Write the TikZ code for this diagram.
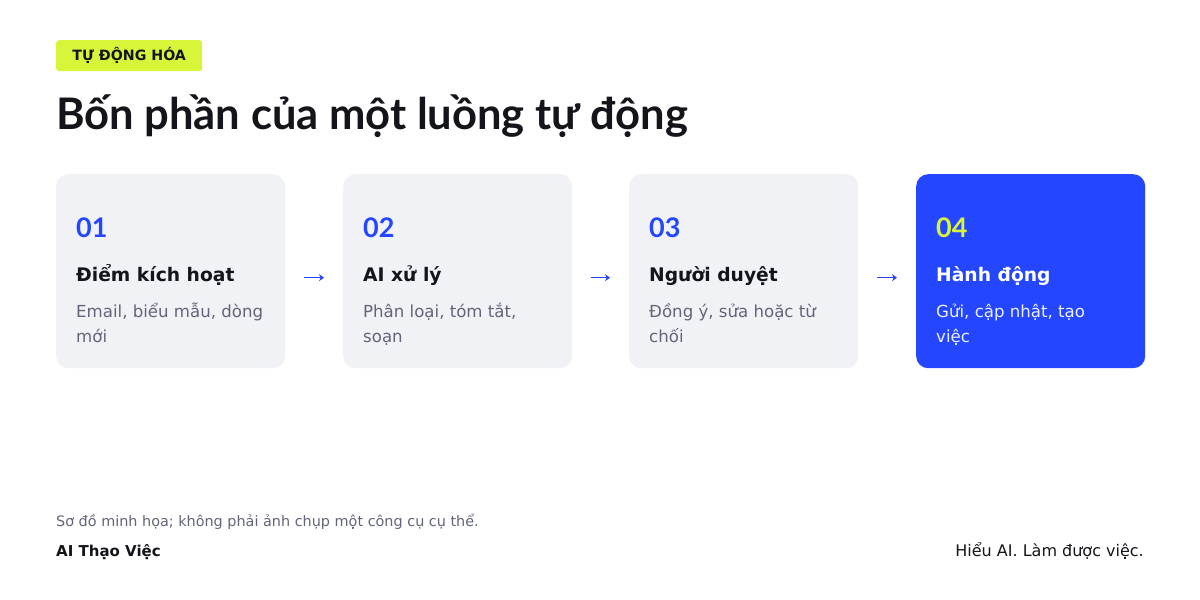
\documentclass[tikz,border=0pt]{standalone}
\usepackage{fontspec}
\setmainfont{DejaVu Sans}
\newfontfamily\headfont{Lato}
\usetikzlibrary{arrows.meta,calc}
\definecolor{ink}{HTML}{14151A}
\definecolor{muted}{HTML}{62657A}
\definecolor{cardbg}{HTML}{F1F2F6}
\definecolor{brand}{HTML}{2446FF}
\definecolor{lime}{HTML}{D8F53A}
\tikzset{
  card/.style={rounded corners=12, minimum width=229, minimum height=194, inner sep=0, anchor=north west},
  plaincard/.style={card, fill=cardbg},
  hotcard/.style={card, fill=brand},
  num/.style={anchor=base west, inner sep=0, font=\headfont\fontsize{27}{30}\selectfont\bfseries},
  ctitle/.style={anchor=base west, inner sep=0, font=\fontsize{18.7}{24}\selectfont\bfseries},
  cdesc/.style={anchor=base west, inner sep=0, font=\fontsize{16.6}{20}\selectfont},
  flow/.style={draw=brand, line width=1.4, -{Stealth[length=5,width=7]}, shorten <=19, shorten >=19},
}
\begin{document}
\begin{tikzpicture}[x=1pt,y=-1pt]
\useasboundingbox[fill=white] (0,0) rectangle (1200,600);
% tag
\node[fill=lime, rounded corners=3, minimum width=146, minimum height=31, inner sep=0, anchor=north west,
      font=\fontsize{14.2}{18}\selectfont\bfseries, text=ink] (tag) at (56,40) {TỰ ĐỘNG HÓA};
% title
\node[anchor=base west, inner sep=0, font=\headfont\fontsize{43.5}{50}\selectfont\bfseries, text=ink] (title) at (56,129)
  {Bốn phần của một luồng tự động};
% cards
\node[plaincard] (c1) at (56,174) {};
\node[plaincard] (c2) at (343,174) {};
\node[plaincard] (c3) at (629,174) {};
\node[hotcard] (c4) at (916,174) {};
% card 1
\node[num, text=brand] (n1) at (76,237) {01};
\node[ctitle, text=ink] (t1) at (76,281) {Điểm kích hoạt};
\node[cdesc, text=muted] (d1a) at (76,317) {Email, biểu mẫu, dòng};
\node[cdesc, text=muted] (d1b) at (76,342) {mới};
% card 2
\node[num, text=brand] (n2) at (363,237) {02};
\node[ctitle, text=ink] (t2) at (363,281) {AI xử lý};
\node[cdesc, text=muted] (d2a) at (363,317) {Phân loại, tóm tắt,};
\node[cdesc, text=muted] (d2b) at (363,342) {soạn};
% card 3
\node[num, text=brand] (n3) at (649,237) {03};
\node[ctitle, text=ink] (t3) at (649,281) {Người duyệt};
\node[cdesc, text=muted] (d3a) at (649,317) {Đồng ý, sửa hoặc từ};
\node[cdesc, text=muted] (d3b) at (649,342) {chối};
% card 4
\node[num, text=lime] (n4) at (936,237) {04};
\node[ctitle, text=white] (t4) at (936,281) {Hành động};
\node[cdesc, text=white!92!brand] (d4a) at (936,317) {Gửi, cập nhật, tạo};
\node[cdesc, text=white!92!brand] (d4b) at (936,342) {việc};
% connectors
\draw[flow] ([yshift=-6.5]c1.east) -- ([yshift=-6.5]c2.west);
\draw[flow] ([yshift=-6.5]c2.east) -- ([yshift=-6.5]c3.west);
\draw[flow] ([yshift=-6.5]c3.east) -- ([yshift=-6.5]c4.west);
% footer
\node[anchor=base west, inner sep=0, font=\fontsize{14.4}{17}\selectfont, text=muted] (note) at (56,526)
  {Sơ đồ minh họa; không phải ảnh chụp một công cụ cụ thể.};
\node[anchor=base west, inner sep=0, font=\fontsize{15}{18}\selectfont\bfseries, text=ink] (brandname) at (56,556) {AI Thạo Việc};
\node[anchor=base east, inner sep=0, font=\fontsize{16}{18}\selectfont, text=ink] (slogan) at (1144,556) {Hiểu AI. Làm được việc.};
\end{tikzpicture}
\end{document}
